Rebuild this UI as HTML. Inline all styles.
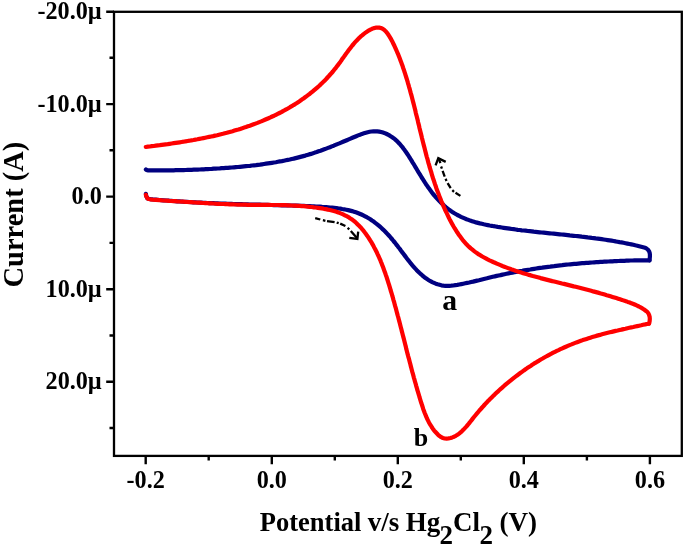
<!DOCTYPE html>
<html><head><meta charset="utf-8"><title>Cyclic voltammogram</title>
<style>html,body{margin:0;padding:0;background:#fff}</style></head>
<body>
<svg width="685" height="547" viewBox="0 0 685 547" style="display:block">
<rect width="685" height="547" fill="#fff"/>
<g fill="none" stroke-linejoin="round" stroke-linecap="round" stroke-width="4.2">
<path stroke="#000080" d="M145.9 169.4L146.0 169.5L146.1 169.7L146.3 169.8L146.6 170.0L147.0 170.2L147.5 170.3L149.5 170.3L151.5 170.3L153.6 170.4L155.6 170.4L157.6 170.4L159.6 170.4L161.6 170.4L163.6 170.4L165.6 170.4L167.6 170.3L169.7 170.3L171.7 170.3L173.7 170.3L175.7 170.2L177.7 170.2L179.7 170.2L181.7 170.1L183.7 170.1L185.7 170.0L187.7 169.9L189.7 169.9L191.7 169.8L193.7 169.7L195.7 169.7L197.8 169.6L199.8 169.5L201.8 169.4L203.8 169.3L205.8 169.2L207.8 169.1L209.8 169.0L211.8 168.9L213.8 168.7L215.8 168.6L217.8 168.5L219.8 168.4L221.8 168.2L223.8 168.1L225.8 167.9L227.9 167.8L229.9 167.6L231.9 167.5L233.9 167.3L235.9 167.1L237.9 167.0L239.9 166.8L241.9 166.6L243.9 166.4L246.0 166.2L248.0 166.0L250.0 165.8L252.0 165.5L254.0 165.3L256.0 165.1L258.0 164.8L260.0 164.6L262.0 164.3L264.0 164.0L266.0 163.7L268.0 163.4L270.0 163.1L272.0 162.8L274.0 162.5L275.9 162.2L277.9 161.8L279.9 161.4L281.9 161.1L283.9 160.7L285.8 160.3L287.8 159.9L289.8 159.5L291.7 159.0L293.7 158.6L295.6 158.1L297.6 157.6L299.5 157.1L301.4 156.6L303.4 156.1L305.3 155.6L307.2 155.0L309.1 154.4L311.0 153.9L313.0 153.3L314.9 152.6L316.7 152.0L318.6 151.3L320.5 150.7L322.4 150.0L324.3 149.3L326.2 148.6L328.0 147.9L329.9 147.2L331.8 146.4L333.7 145.7L335.5 144.9L337.4 144.1L339.3 143.4L341.1 142.6L343.0 141.8L344.9 141.0L346.8 140.2L348.7 139.4L350.5 138.6L352.4 137.8L354.3 137.0L356.2 136.2L358.1 135.4L360.0 134.7L362.0 133.9L363.9 133.3L365.8 132.7L367.7 132.2L369.6 131.8L371.5 131.5L373.5 131.3L375.4 131.3L377.3 131.4L379.2 131.6L381.1 132.0L383.0 132.6L384.9 133.2L386.7 134.0L388.5 134.9L390.2 135.9L391.9 137.0L393.6 138.2L395.1 139.4L396.7 140.8L398.1 142.2L399.5 143.7L400.9 145.3L402.2 146.8L403.4 148.5L404.6 150.1L405.8 151.8L407.0 153.5L408.1 155.2L409.2 156.9L410.3 158.7L411.4 160.4L412.4 162.1L413.5 163.8L414.5 165.5L415.6 167.3L416.6 169.0L417.6 170.7L418.6 172.4L419.7 174.1L420.7 175.8L421.7 177.5L422.8 179.2L423.9 180.9L424.9 182.5L426.0 184.2L427.2 185.9L428.3 187.5L429.5 189.1L430.7 190.8L431.9 192.4L433.1 194.0L434.4 195.5L435.7 197.1L437.1 198.6L438.5 200.1L439.9 201.6L441.3 203.0L442.8 204.4L444.3 205.8L445.8 207.1L447.4 208.4L449.0 209.6L450.6 210.8L452.3 211.9L454.0 213.0L455.7 214.0L457.4 215.0L459.2 215.9L461.0 216.8L462.8 217.6L464.6 218.4L466.5 219.2L468.4 219.9L470.2 220.6L472.1 221.2L474.1 221.8L476.0 222.4L477.9 222.9L479.9 223.4L481.8 223.8L483.8 224.3L485.8 224.7L487.8 225.1L489.7 225.5L491.7 225.8L493.7 226.2L495.7 226.5L497.7 226.9L499.7 227.2L501.7 227.5L503.7 227.8L505.7 228.1L507.7 228.4L509.7 228.7L511.7 229.0L513.7 229.2L515.7 229.5L517.7 229.8L519.7 230.0L521.7 230.3L523.7 230.5L525.7 230.7L527.7 231.0L529.7 231.2L531.7 231.4L533.7 231.7L535.7 231.9L537.7 232.1L539.7 232.3L541.7 232.5L543.7 232.7L545.7 232.9L547.7 233.1L549.7 233.3L551.7 233.5L553.7 233.7L555.7 233.9L557.7 234.1L559.7 234.3L561.7 234.5L563.7 234.7L565.7 234.9L567.7 235.1L569.7 235.4L571.7 235.6L573.7 235.8L575.7 236.0L577.7 236.2L579.7 236.4L581.7 236.7L583.7 236.9L585.7 237.1L587.7 237.4L589.7 237.6L591.7 237.9L593.7 238.1L595.7 238.4L597.7 238.6L599.7 238.9L601.7 239.2L603.7 239.5L605.6 239.8L607.6 240.1L609.6 240.4L611.6 240.7L613.6 241.0L615.6 241.4L617.5 241.7L619.5 242.1L621.5 242.4L623.5 242.8L625.5 243.2L627.4 243.6L629.4 244.0L631.4 244.4L633.3 244.8L635.3 245.3L637.3 245.7L639.2 246.2L641.2 246.7L643.1 247.2L645.1 247.7L645.8 248.1L646.5 248.5L647.1 249.0L647.7 249.5L648.2 250.0L648.6 250.6L649.0 251.2L649.3 251.8L649.5 252.4L649.7 253.1L649.8 253.8L649.9 254.6L649.9 255.5L649.9 256.6L649.8 257.8L649.7 258.8L649.6 259.7L649.5 260.4"/>
<path stroke="#000080" d="M649.5 260.4L648.2 260.4L646.5 260.4L644.4 260.3L642.2 260.3L640.2 260.3L638.5 260.3L636.5 260.4L634.5 260.4L632.5 260.5L630.5 260.5L628.5 260.6L626.4 260.7L624.4 260.8L622.4 260.8L620.4 260.9L618.4 261.0L616.4 261.1L614.4 261.2L612.4 261.3L610.4 261.4L608.3 261.5L606.3 261.6L604.3 261.7L602.3 261.8L600.3 261.9L598.3 262.1L596.3 262.2L594.3 262.3L592.3 262.5L590.2 262.6L588.2 262.8L586.2 262.9L584.2 263.1L582.2 263.2L580.2 263.4L578.2 263.6L576.2 263.8L574.2 263.9L572.2 264.1L570.2 264.3L568.2 264.5L566.2 264.7L564.2 264.9L562.2 265.2L560.2 265.4L558.2 265.6L556.2 265.8L554.2 266.1L552.2 266.3L550.2 266.6L548.2 266.8L546.2 267.1L544.2 267.4L542.2 267.7L540.2 267.9L538.2 268.2L536.2 268.5L534.2 268.8L532.2 269.1L530.2 269.5L528.2 269.8L526.3 270.1L524.3 270.4L522.3 270.8L520.3 271.1L518.3 271.5L516.4 271.9L514.4 272.2L512.4 272.6L510.4 273.0L508.5 273.4L506.5 273.8L504.5 274.2L502.5 274.6L500.6 275.1L498.6 275.5L496.7 275.9L494.7 276.4L492.7 276.8L490.8 277.3L488.8 277.8L486.9 278.3L484.9 278.7L482.9 279.2L481.0 279.7L479.0 280.2L477.1 280.6L475.1 281.1L473.1 281.6L471.2 282.0L469.2 282.5L467.2 282.9L465.3 283.3L463.3 283.7L461.3 284.1L459.3 284.5L457.3 284.9L455.3 285.2L453.3 285.5L451.3 285.7L449.3 285.8L447.3 285.9L445.4 285.8L443.4 285.6L441.4 285.3L439.5 284.8L437.6 284.3L435.8 283.7L434.0 282.9L432.2 282.1L430.5 281.2L428.8 280.2L427.1 279.1L425.5 278.0L424.0 276.8L422.4 275.5L420.9 274.2L419.4 272.8L418.0 271.4L416.5 269.9L415.1 268.4L413.7 266.8L412.4 265.3L411.0 263.7L409.7 262.0L408.4 260.4L407.1 258.8L405.9 257.1L404.6 255.4L403.4 253.8L402.1 252.1L400.9 250.5L399.7 248.8L398.4 247.2L397.2 245.6L396.0 244.1L394.8 242.5L393.5 241.0L392.3 239.5L391.0 238.0L389.8 236.5L388.4 235.0L387.1 233.6L385.8 232.2L384.4 230.8L382.9 229.4L381.5 228.0L380.0 226.7L378.5 225.4L376.9 224.1L375.3 222.9L373.7 221.6L372.0 220.5L370.3 219.3L368.6 218.3L366.8 217.2L365.1 216.3L363.3 215.4L361.5 214.5L359.6 213.7L357.8 213.0L355.9 212.3L354.0 211.7L352.1 211.1L350.1 210.6L348.2 210.1L346.2 209.7L344.2 209.3L342.2 209.0L340.3 208.6L338.2 208.4L336.2 208.1L334.2 207.9L332.2 207.7L330.2 207.5L328.1 207.3L326.1 207.1L324.1 207.0L322.1 206.9L320.0 206.7L318.0 206.6L316.0 206.5L314.0 206.4L311.9 206.3L309.9 206.2L307.9 206.1L305.9 206.0L303.9 205.9L301.9 205.9L299.9 205.8L297.9 205.7L295.9 205.7L293.9 205.6L291.9 205.5L289.8 205.5L287.8 205.4L285.8 205.4L283.8 205.3L281.8 205.3L279.8 205.2L277.8 205.2L275.8 205.1L273.8 205.1L271.8 205.0L269.8 205.0L267.8 204.9L265.8 204.9L263.8 204.8L261.8 204.8L259.8 204.7L257.8 204.7L255.7 204.6L253.7 204.6L251.7 204.5L249.7 204.5L247.7 204.4L245.7 204.4L243.7 204.3L241.6 204.2L239.6 204.2L237.6 204.1L235.6 204.1L233.6 204.0L231.6 203.9L229.6 203.9L227.5 203.8L225.5 203.7L223.5 203.6L221.5 203.6L219.5 203.5L217.5 203.4L215.4 203.3L213.4 203.2L211.4 203.2L209.4 203.1L207.4 203.0L205.4 202.9L203.3 202.8L201.3 202.7L199.3 202.6L197.3 202.5L195.3 202.4L193.3 202.3L191.3 202.2L189.3 202.0L187.2 201.9L185.2 201.8L183.2 201.7L181.2 201.5L179.2 201.4L177.2 201.3L175.2 201.1L173.2 201.0L171.2 200.8L169.2 200.7L166.6 200.5L163.3 200.3L159.5 200.0L155.9 199.7L152.6 199.4L150.2 199.1L148.7 198.8L147.8 198.5L147.4 198.2L147.2 197.8L147.0 197.4L146.8 197.0L146.5 196.5L146.3 195.9L146.1 195.3L146.0 194.7L146.0 194.2L145.9 193.8"/>
<path stroke="#ff0000" d="M145.8 147.0L147.8 146.7L149.8 146.5L151.8 146.2L153.8 146.0L155.8 145.7L157.8 145.4L159.8 145.2L161.8 144.9L163.7 144.6L165.7 144.3L167.7 144.1L169.7 143.8L171.7 143.5L173.7 143.2L175.7 142.9L177.7 142.6L179.7 142.3L181.6 142.0L183.6 141.7L185.6 141.3L187.6 141.0L189.6 140.7L191.5 140.3L193.5 140.0L195.5 139.6L197.4 139.3L199.4 138.9L201.4 138.5L203.4 138.1L205.3 137.7L207.3 137.3L209.2 136.9L211.2 136.5L213.2 136.1L215.1 135.6L217.1 135.2L219.0 134.7L221.0 134.2L222.9 133.8L224.8 133.3L226.8 132.8L228.7 132.2L230.7 131.7L232.6 131.2L234.5 130.6L236.4 130.0L238.4 129.5L240.3 128.9L242.2 128.3L244.1 127.6L246.0 127.0L247.9 126.3L249.8 125.7L251.7 125.0L253.6 124.3L255.5 123.6L257.4 122.9L259.3 122.1L261.2 121.4L263.0 120.6L264.9 119.8L266.7 119.0L268.6 118.2L270.4 117.4L272.2 116.5L274.1 115.7L275.9 114.8L277.7 113.9L279.5 113.0L281.3 112.1L283.0 111.1L284.8 110.2L286.6 109.2L288.3 108.2L290.0 107.2L291.8 106.2L293.5 105.1L295.2 104.1L296.9 103.0L298.5 101.9L300.2 100.8L301.8 99.6L303.5 98.5L305.1 97.3L306.7 96.1L308.3 94.9L309.9 93.7L311.4 92.4L313.0 91.2L314.5 89.9L316.0 88.6L317.5 87.3L319.0 86.0L320.5 84.6L321.9 83.2L323.4 81.8L324.8 80.4L326.2 79.0L327.5 77.5L328.9 76.0L330.2 74.5L331.6 73.0L332.9 71.5L334.1 69.9L335.4 68.4L336.6 66.8L337.9 65.1L339.1 63.5L340.3 61.9L341.5 60.2L342.6 58.5L343.8 56.9L345.0 55.2L346.2 53.6L347.4 51.9L348.6 50.3L349.8 48.7L351.1 47.1L352.3 45.5L353.6 44.0L354.9 42.4L356.3 40.9L357.7 39.5L359.1 38.1L360.5 36.7L362.1 35.4L363.6 34.1L365.2 32.9L366.9 31.7L368.6 30.6L370.4 29.6L372.1 28.8L373.9 28.1L375.7 27.7L377.5 27.5L379.2 27.6L380.9 28.0L382.5 28.7L384.1 29.8L385.6 31.2L387.0 32.8L388.2 34.5L389.4 36.3L390.6 38.3L391.6 40.2L392.6 42.1L393.5 44.0L394.4 45.8L395.2 47.6L396.0 49.4L396.8 51.3L397.6 53.1L398.4 54.9L399.1 56.8L399.8 58.6L400.5 60.5L401.2 62.3L401.9 64.2L402.6 66.1L403.2 68.0L403.9 69.9L404.5 71.8L405.1 73.7L405.7 75.6L406.3 77.5L406.9 79.4L407.5 81.3L408.0 83.3L408.6 85.2L409.1 87.1L409.7 89.0L410.2 91.0L410.7 92.9L411.3 94.9L411.8 96.8L412.3 98.7L412.8 100.7L413.3 102.6L413.8 104.6L414.3 106.5L414.8 108.5L415.3 110.4L415.7 112.4L416.2 114.4L416.7 116.3L417.2 118.3L417.7 120.2L418.1 122.2L418.6 124.1L419.1 126.1L419.5 128.0L420.0 130.0L420.5 132.0L421.0 133.9L421.5 135.9L421.9 137.8L422.4 139.8L422.9 141.7L423.4 143.7L423.9 145.6L424.4 147.6L424.9 149.5L425.4 151.5L425.9 153.4L426.4 155.4L426.9 157.3L427.5 159.2L428.0 161.2L428.5 163.1L429.1 165.0L429.6 167.0L430.2 168.9L430.8 170.8L431.4 172.7L431.9 174.7L432.5 176.6L433.1 178.5L433.8 180.4L434.4 182.3L435.0 184.2L435.7 186.1L436.3 188.0L437.0 189.9L437.7 191.7L438.4 193.6L439.1 195.5L439.8 197.4L440.6 199.2L441.3 201.1L442.1 202.9L442.9 204.8L443.7 206.6L444.5 208.5L445.3 210.3L446.2 212.1L447.1 213.9L447.9 215.7L448.8 217.6L449.7 219.4L450.7 221.2L451.6 222.9L452.6 224.7L453.6 226.5L454.6 228.2L455.7 229.9L456.8 231.7L457.9 233.3L459.0 235.0L460.2 236.6L461.4 238.2L462.6 239.8L463.9 241.3L465.2 242.8L466.5 244.3L467.9 245.7L469.4 247.1L470.8 248.4L472.4 249.7L473.9 250.9L475.5 252.1L477.2 253.3L478.8 254.4L480.6 255.4L482.3 256.5L484.1 257.5L485.8 258.4L487.6 259.4L489.5 260.3L491.3 261.1L493.1 262.0L495.0 262.8L496.8 263.6L498.7 264.4L500.5 265.2L502.4 266.0L504.3 266.7L506.1 267.4L508.0 268.1L509.9 268.8L511.8 269.5L513.7 270.1L515.6 270.8L517.5 271.4L519.4 272.0L521.3 272.6L523.2 273.2L525.2 273.8L527.1 274.3L529.0 274.9L530.9 275.4L532.9 276.0L534.8 276.5L536.7 277.0L538.7 277.5L540.6 278.1L542.5 278.6L544.5 279.1L546.4 279.6L548.4 280.1L550.3 280.6L552.3 281.1L554.2 281.5L556.2 282.0L558.1 282.5L560.1 283.0L562.0 283.5L564.0 283.9L565.9 284.4L567.9 284.9L569.8 285.4L571.8 285.9L573.7 286.4L575.7 286.8L577.6 287.3L579.6 287.8L581.5 288.3L583.5 288.8L585.4 289.3L587.4 289.8L589.3 290.3L591.2 290.8L593.2 291.4L595.1 291.9L597.0 292.4L599.0 292.9L600.9 293.5L602.8 294.0L604.7 294.6L606.7 295.2L608.6 295.7L610.5 296.3L612.4 296.9L614.4 297.5L616.3 298.1L618.2 298.7L620.1 299.3L622.0 299.9L623.9 300.6L625.9 301.2L627.8 301.9L629.7 302.5L631.5 303.3L633.4 304.0L635.3 304.8L637.1 305.6L638.9 306.5L640.6 307.4L642.4 308.4L644.1 309.5L645.7 310.7L647.3 311.9L647.8 312.6L648.3 313.3L648.7 314.0L649.0 314.8L649.3 315.6L649.5 316.3L649.7 317.1L649.7 317.8L649.8 318.6L649.8 319.3L649.7 320.1L649.7 320.7L649.6 321.3L649.5 321.9L649.4 322.4L649.2 322.9L649.1 323.3L649.0 323.6"/>
<path stroke="#ff0000" d="M649.0 323.6L648.6 323.7L648.1 323.8L647.4 323.9L646.7 324.1L645.9 324.2L645.1 324.4L643.1 324.8L641.2 325.3L639.2 325.7L637.2 326.1L635.3 326.5L633.3 327.0L631.3 327.4L629.4 327.8L627.4 328.2L625.4 328.7L623.5 329.1L621.5 329.6L619.6 330.0L617.6 330.5L615.6 330.9L613.7 331.4L611.7 331.9L609.8 332.3L607.8 332.8L605.9 333.3L603.9 333.8L602.0 334.3L600.0 334.9L598.1 335.4L596.2 335.9L594.3 336.5L592.3 337.1L590.4 337.7L588.5 338.3L586.6 338.9L584.7 339.5L582.8 340.1L580.9 340.8L579.0 341.5L577.1 342.2L575.2 342.9L573.4 343.6L571.5 344.4L569.6 345.1L567.8 345.9L565.9 346.7L564.1 347.5L562.3 348.3L560.4 349.2L558.6 350.1L556.8 350.9L555.0 351.8L553.2 352.7L551.4 353.7L549.6 354.6L547.8 355.6L546.1 356.5L544.3 357.5L542.6 358.5L540.8 359.5L539.1 360.6L537.4 361.6L535.7 362.7L533.9 363.7L532.2 364.8L530.6 365.9L528.9 367.0L527.2 368.1L525.5 369.3L523.9 370.4L522.3 371.6L520.6 372.8L519.0 374.0L517.4 375.2L515.8 376.4L514.2 377.6L512.6 378.9L511.1 380.1L509.5 381.4L508.0 382.6L506.4 383.9L504.9 385.2L503.4 386.5L501.9 387.9L500.4 389.2L498.9 390.5L497.5 391.9L496.0 393.2L494.6 394.6L493.1 396.0L491.7 397.4L490.3 398.8L488.9 400.2L487.5 401.6L486.2 403.1L484.8 404.5L483.5 406.0L482.1 407.5L480.8 409.0L479.4 410.5L478.1 412.1L476.8 413.6L475.5 415.2L474.2 416.8L472.9 418.4L471.6 420.1L470.3 421.7L469.0 423.4L467.7 425.0L466.3 426.6L464.9 428.1L463.5 429.6L462.1 431.0L460.6 432.4L459.1 433.6L457.5 434.8L455.8 435.8L454.1 436.7L452.3 437.4L450.5 438.0L448.5 438.4L446.6 438.6L444.7 438.5L442.9 438.0L441.2 437.2L439.6 436.1L438.1 434.8L436.7 433.3L435.3 431.8L434.0 430.3L432.8 428.7L431.7 427.0L430.7 425.3L429.6 423.6L428.7 421.9L427.8 420.1L426.9 418.3L426.1 416.4L425.4 414.6L424.6 412.7L423.9 410.8L423.2 408.9L422.6 406.9L422.0 405.0L421.3 403.1L420.7 401.1L420.1 399.2L419.5 397.2L419.0 395.3L418.4 393.3L417.8 391.4L417.2 389.5L416.7 387.5L416.1 385.6L415.6 383.6L415.0 381.7L414.5 379.7L413.9 377.8L413.4 375.8L412.9 373.9L412.3 371.9L411.8 370.0L411.3 368.0L410.8 366.1L410.3 364.1L409.8 362.2L409.3 360.2L408.8 358.3L408.2 356.3L407.7 354.4L407.2 352.4L406.7 350.5L406.2 348.6L405.8 346.6L405.3 344.7L404.8 342.7L404.3 340.8L403.8 338.8L403.3 336.9L402.8 334.9L402.3 333.0L401.8 331.1L401.3 329.1L400.8 327.2L400.3 325.2L399.8 323.3L399.3 321.4L398.8 319.4L398.3 317.5L397.7 315.5L397.2 313.6L396.7 311.7L396.2 309.7L395.7 307.8L395.1 305.9L394.6 304.0L394.1 302.0L393.5 300.1L393.0 298.2L392.4 296.2L391.9 294.3L391.3 292.4L390.7 290.5L390.2 288.6L389.6 286.6L389.0 284.7L388.4 282.8L387.8 280.9L387.2 279.0L386.6 277.1L385.9 275.2L385.3 273.3L384.6 271.4L383.9 269.5L383.2 267.6L382.5 265.7L381.8 263.9L381.0 262.0L380.3 260.1L379.5 258.3L378.7 256.5L377.8 254.6L377.0 252.8L376.1 251.0L375.2 249.2L374.2 247.4L373.3 245.6L372.3 243.9L371.3 242.1L370.2 240.4L369.1 238.6L368.0 236.9L366.8 235.2L365.6 233.6L364.4 231.9L363.2 230.3L361.9 228.8L360.5 227.2L359.1 225.8L357.7 224.4L356.3 223.0L354.8 221.7L353.2 220.4L351.7 219.3L350.0 218.2L348.4 217.1L346.7 216.2L344.9 215.3L343.1 214.4L341.3 213.6L339.5 212.9L337.6 212.2L335.7 211.6L333.8 211.0L331.8 210.5L329.9 210.0L327.9 209.6L325.9 209.1L323.9 208.8L321.9 208.4L319.9 208.1L317.8 207.8L315.8 207.5L313.8 207.3L311.8 207.0L309.7 206.8L307.7 206.6L305.7 206.4L303.7 206.2L301.7 206.1L299.7 205.9L297.6 205.8L295.6 205.7L293.6 205.6L291.6 205.5L289.6 205.4L287.6 205.3L285.6 205.2L283.6 205.2L281.6 205.1L279.6 205.1L277.6 205.0L275.6 205.0L273.6 205.0L271.6 205.0L269.6 204.9L267.6 204.9L265.6 204.9L263.6 204.9L261.6 204.9L259.6 204.9L257.6 204.8L255.6 204.8L253.6 204.8L251.6 204.8L249.6 204.8L247.5 204.8L245.5 204.7L243.5 204.7L241.5 204.7L239.5 204.6L237.5 204.6L235.5 204.5L233.5 204.4L231.5 204.4L229.5 204.3L227.5 204.2L225.5 204.1L223.4 204.0L221.4 204.0L219.4 203.9L217.4 203.8L215.4 203.7L213.4 203.5L211.4 203.4L209.3 203.3L207.3 203.2L205.3 203.1L203.3 203.0L201.3 202.8L199.3 202.7L197.3 202.6L195.3 202.5L193.2 202.3L191.2 202.2L189.2 202.1L187.2 202.0L185.2 201.8L183.2 201.7L181.2 201.6L179.2 201.5L177.2 201.4L175.2 201.2L173.2 201.1L171.2 201.0L169.2 200.9L166.6 200.7L163.3 200.5L159.5 200.2L155.9 199.9L152.6 199.6L150.2 199.3L148.7 199.0L147.8 198.6L147.4 198.3L147.2 197.9L147.0 197.6L146.8 197.2L146.5 196.8L146.3 196.3L146.1 195.9L146.0 195.4L146.0 195.1L145.9 194.8"/>
</g>
<g stroke="#000" fill="none">
<rect x="114.0" y="11.8" width="567.8" height="444.1" stroke-width="2.3"/>
<path d="M145.7 455.9V464.2M271.8 455.9V464.2M397.8 455.9V464.2M523.8 455.9V464.2M649.9 455.9V464.2M208.7 455.9V460.5M334.8 455.9V460.5M460.8 455.9V460.5M586.9 455.9V460.5M114.0 11.8H106.2M114.0 104.1H106.2M114.0 196.6H106.2M114.0 289.2H106.2M114.0 381.7H106.2M114.0 57.8H109.5M114.0 150.3H109.5M114.0 242.9H109.5M114.0 335.5H109.5M114.0 428.0H109.5" stroke-width="2.4"/>
<path d="M315.2 218.1L320.3 219.5M322.9 220.2L325.4 220.8M327.0 221.1L334.6 222.2M336.7 222.6L338.7 223.2M340.2 223.6L345.4 226.0M347.6 227.8L349.3 229.3M350.8 230.9L357.2 238.2M438.9 159.3L440.4 163.2M441.1 166.5L441.9 168.7M442.6 170.9L444.7 176.6M445.6 178.8L446.5 181.0M447.6 183.1L450.7 188.1M452.3 190.2L454.0 191.8M455.5 192.8L460.4 195.9" stroke-width="2.3"/>
<path d="M349.3 237.8L357.4 239.0L358.2 231.7M435.6 165.4L438.3 158.2L445.7 161.9" stroke-width="2.3" stroke-linejoin="miter"/>
</g>
<g font-family="'Liberation Serif', serif" font-weight="bold" fill="#000">
<text x="101.8" y="19.4" font-size="24.2" text-anchor="end">-20.0µ</text>
<text x="101.8" y="111.7" font-size="24.2" text-anchor="end">-10.0µ</text>
<text x="101.8" y="204.2" font-size="24.2" text-anchor="end">0.0</text>
<text x="101.8" y="296.8" font-size="24.2" text-anchor="end">10.0µ</text>
<text x="101.8" y="389.3" font-size="24.2" text-anchor="end">20.0µ</text>
<text x="145.7" y="488" font-size="24.2" text-anchor="middle">-0.2</text>
<text x="271.8" y="488" font-size="24.2" text-anchor="middle">0.0</text>
<text x="397.8" y="488" font-size="24.2" text-anchor="middle">0.2</text>
<text x="523.8" y="488" font-size="24.2" text-anchor="middle">0.4</text>
<text x="649.9" y="488" font-size="24.2" text-anchor="middle">0.6</text>
<text transform="translate(449.6 310.2) scale(1.04 1)" font-size="28.6" text-anchor="middle">a</text>
<text x="421" y="445.7" font-size="26" text-anchor="middle">b</text>
<text transform="translate(22.5 214.6) rotate(-90)" font-size="28.5" text-anchor="middle">Current (A)</text>
<text x="259.8" y="530.5" font-size="26.5">Potential</text>
<text x="367.8" y="530.5" font-size="27">v/s</text>
<text x="405.7" y="530.5" font-size="27">Hg</text>
<text x="439.5" y="543.8" font-size="27">2</text>
<text x="453" y="530.5" font-size="27">Cl</text>
<text x="479.5" y="543.8" font-size="27">2</text>
<text x="499.6" y="530.5" font-size="27">(V)</text>
</g>
</svg>
</body></html>
